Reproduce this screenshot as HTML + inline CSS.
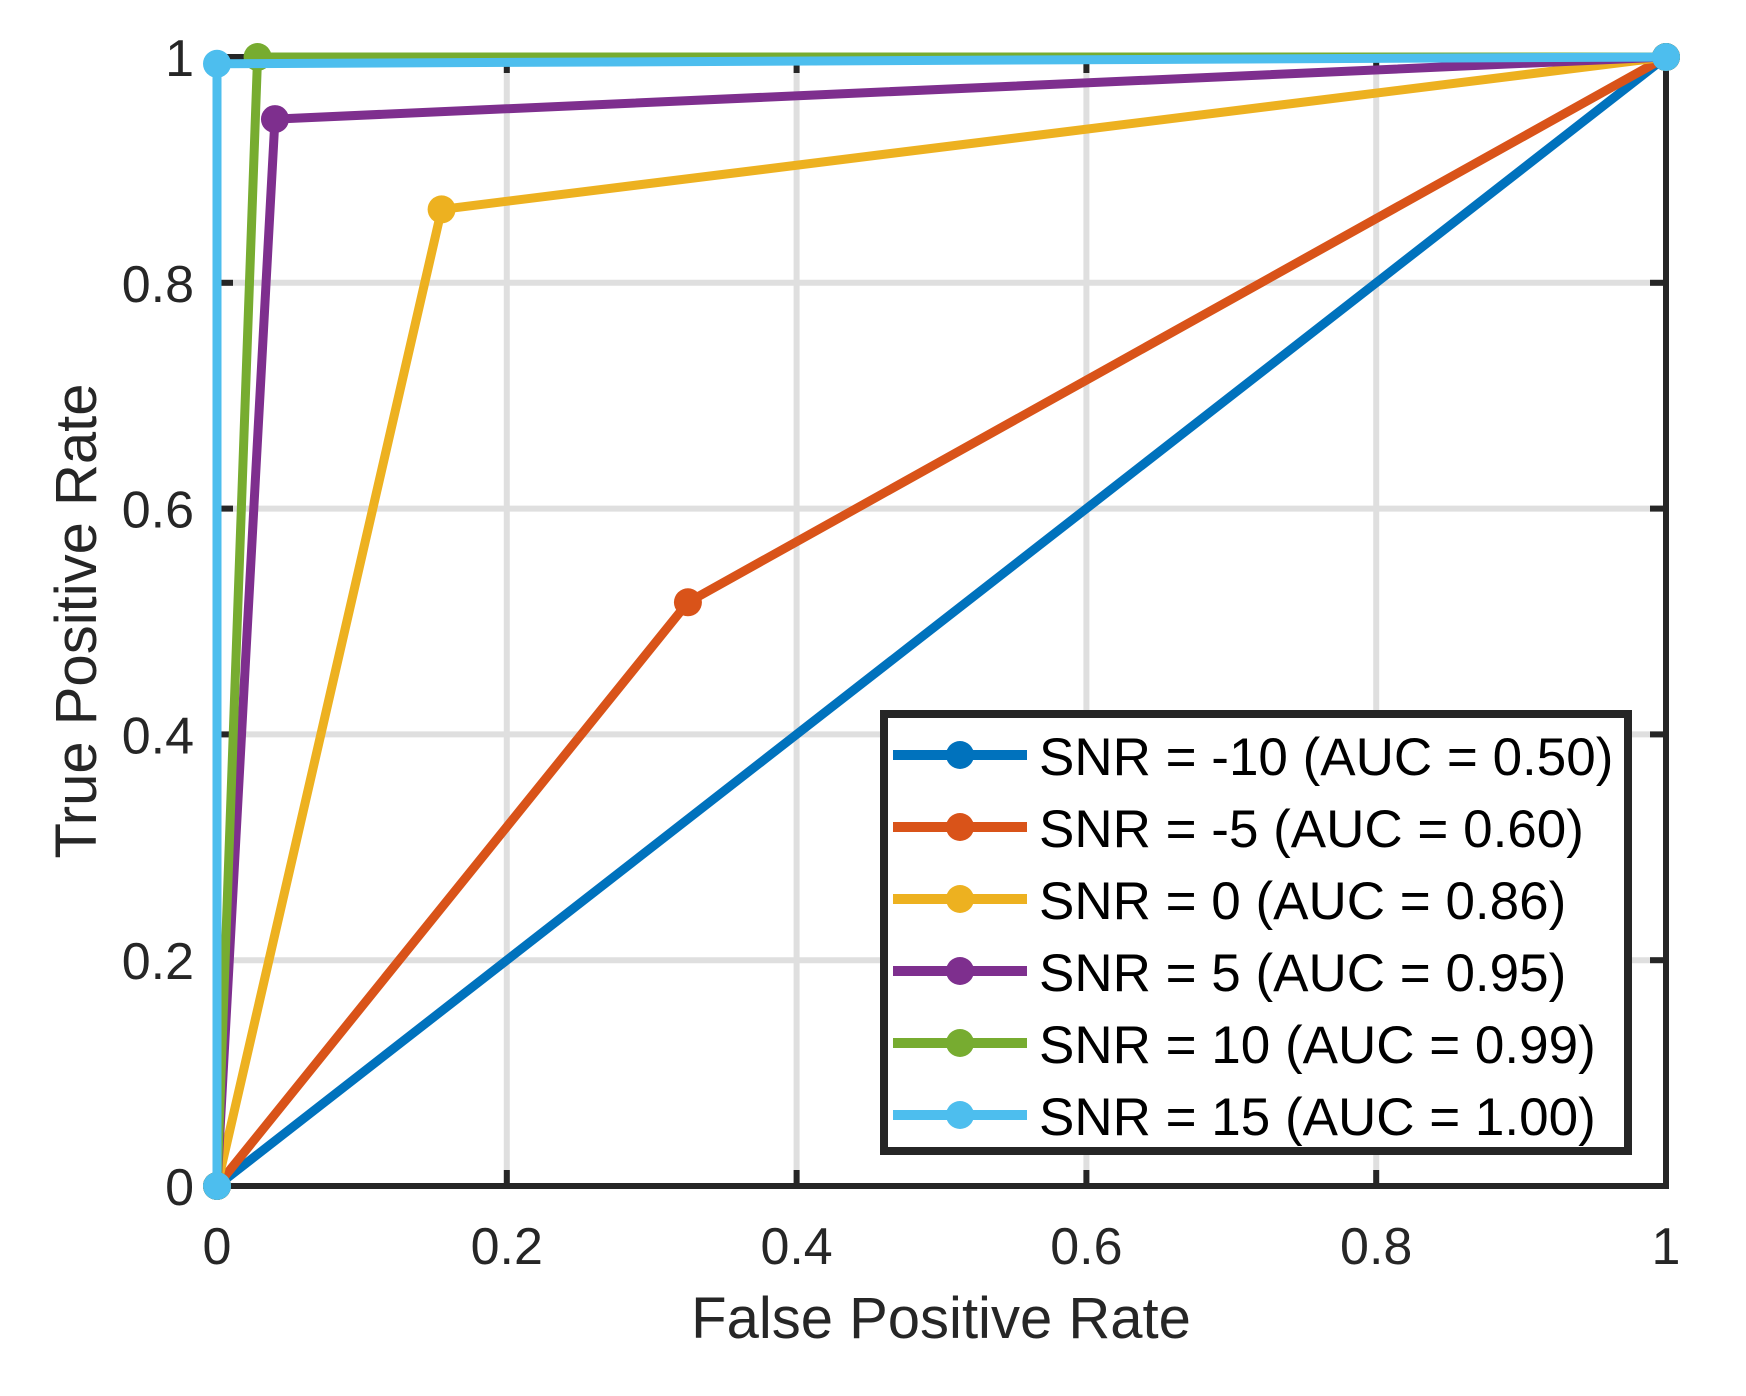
<!DOCTYPE html>
<html><head><meta charset="utf-8"><style>
body{margin:0;background:#fff;}
svg text{font-family:"Liberation Sans",sans-serif;fill:#262626;}
</style></head><body>
<svg id="chart" width="1746" height="1391" xmlns="http://www.w3.org/2000/svg">
<rect width="1746" height="1391" fill="#fff"/>
<g id="grid"></g>
<g id="axes"></g>
<g id="series"></g>
<g id="legend"></g>
</svg>
<script>
const xTicks=[0,0.2,0.4,0.6,0.8,1];
const yTicks=[0,0.2,0.4,0.6,0.8,1];
const xTickLabels=["0","0.2","0.4","0.6","0.8","1"];
const yTickLabels=["0","0.2","0.4","0.6","0.8","1"];
const seriesNames=["SNR = -10 (AUC = 0.50)","SNR = -5 (AUC = 0.60)","SNR = 0 (AUC = 0.86)","SNR = 5 (AUC = 0.95)","SNR = 10 (AUC = 0.99)","SNR = 15 (AUC = 1.00)"];
const seriesColors=["#0072bd","#d95319","#edb120","#7e2f8e","#77ac30","#4dbeee"];
const fprM10=[0,1], tprM10=[0,1];
const fprM5=[0,0.325,1], tprM5=[0,0.517,1];
const fpr0=[0,0.155,1], tpr0=[0,0.865,1];
const fpr5=[0,0.04,1], tpr5=[0,0.945,1];
const fpr10=[0,0.028,1], tpr10=[0,1,1];
const fpr15=[0,0,1], tpr15=[0,0.994,1];
const fprs=[fprM10,fprM5,fpr0,fpr5,fpr10,fpr15];
const tprs=[tprM10,tprM5,tpr0,tpr5,tpr10,tpr15];

const X0=217,X1=1666,Y0=1186,Y1=57;
const sx=v=>X0+(X1-X0)*v, sy=v=>Y0-(Y0-Y1)*v;
const NS="http://www.w3.org/2000/svg";
function mk(tag,attrs,parent){const e=document.createElementNS(NS,tag);for(const k in attrs)e.setAttribute(k,attrs[k]);parent.appendChild(e);return e;}
const grid=document.getElementById('grid'),ser=document.getElementById('series'),ax=document.getElementById('axes'),lg=document.getElementById('legend');
xTicks.forEach((v,i)=>{
  const l=mk('line',{x1:sx(v),x2:sx(v),y1:Y0,y2:Y1,stroke:'#dfdfdf','stroke-width':6},grid);
  
  
  const t=mk('text',{x:sx(v),y:1264,'font-size':52,'text-anchor':'middle'},ax);t.textContent=xTickLabels[i];
  
  
  mk('line',{x1:sx(v),x2:sx(v),y1:Y0,y2:Y0-16,stroke:'#262626','stroke-width':6},ax);
  mk('line',{x1:sx(v),x2:sx(v),y1:Y1,y2:Y1+16,stroke:'#262626','stroke-width':6},ax);
});
yTicks.forEach((v,i)=>{
  const l=mk('line',{x1:X0,x2:X1,y1:sy(v),y2:sy(v),stroke:'#dfdfdf','stroke-width':6},grid);
  
  
  const t=mk('text',{x:194,y:sy(v)+19,'font-size':52,'text-anchor':'end'},ax);t.textContent=yTickLabels[i];
  
  
  mk('line',{x1:X0,x2:X0+16,y1:sy(v),y2:sy(v),stroke:'#262626','stroke-width':6},ax);
  mk('line',{x1:X1,x2:X1-16,y1:sy(v),y2:sy(v),stroke:'#262626','stroke-width':6},ax);
});
const box=mk('rect',{x:X0,y:Y1,width:X1-X0,height:Y0-Y1,fill:'none',stroke:'#262626','stroke-width':6},ax);


const xl=mk('text',{x:941,y:1338,'font-size':58,'text-anchor':'middle'},ax);xl.textContent='False Positive Rate';


const yl=mk('text',{x:0,y:0,'font-size':58,'text-anchor':'middle',transform:'translate(96,621) rotate(-90)'},ax);yl.textContent='True Positive Rate';


fprs.forEach((xs,s)=>{
  const g=mk('g',{},ser);
  
  
  const pts=xs.map((x,i)=>sx(x)+','+sy(tprs[s][i])).join(' ');
  mk('polyline',{points:pts,fill:'none',stroke:seriesColors[s],'stroke-width':9,'stroke-linejoin':'round'},g);
  xs.forEach((x,i)=>{const c=mk('circle',{cx:sx(x),cy:sy(tprs[s][i]),r:14,fill:seriesColors[s]},g);
    
    });
});
const lb=mk('rect',{x:884,y:714,width:744,height:437,fill:'#fff',stroke:'#262626','stroke-width':8},lg);


seriesNames.forEach((n,s)=>{
  const y=755+s*72;
  const g=mk('g',{},lg);
  
  
  mk('line',{x1:893,x2:1027,y1:y,y2:y,stroke:seriesColors[s],'stroke-width':10},g);
  mk('circle',{cx:960,cy:y,r:14,fill:seriesColors[s]},g);
  const t=mk('text',{x:1039,y:y+20,'font-size':53,style:'fill:#000'},g);t.textContent=n;
});
</script>
</body></html>
